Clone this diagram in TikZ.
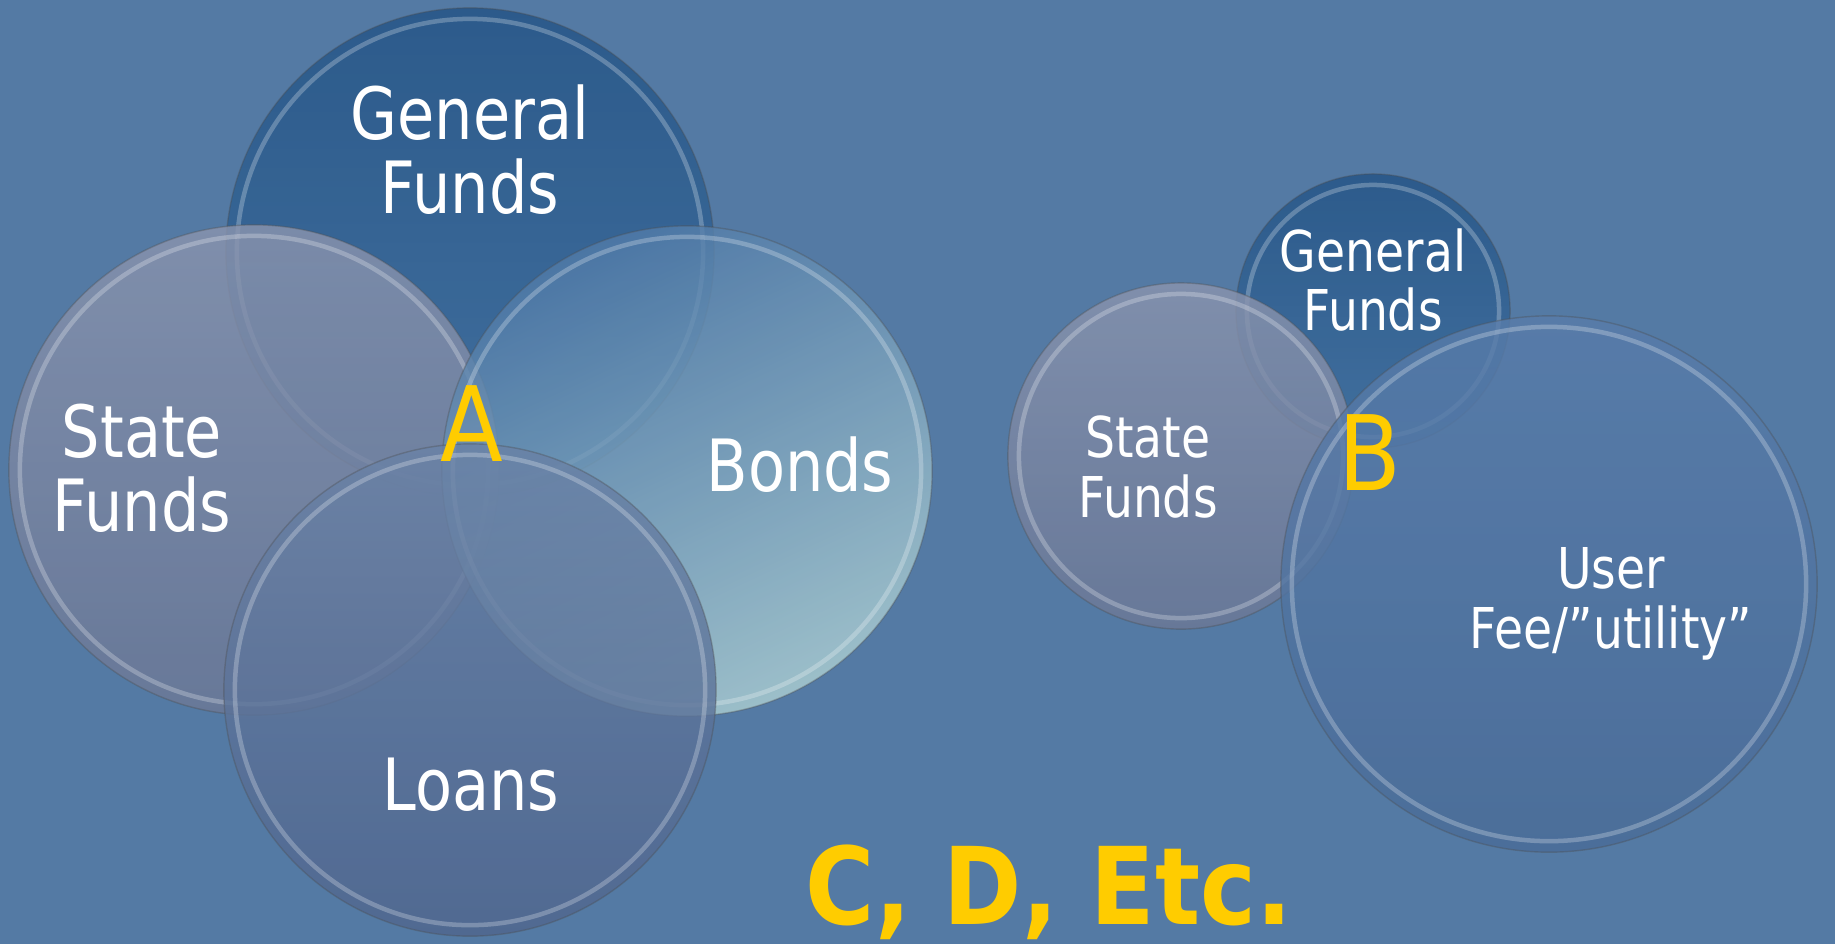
\documentclass[tikz,border=0pt]{standalone}
\usepackage{fontspec}
\setmainfont[FakeStretch=0.84]{DejaVu Sans}
\newfontfamily\markfont[FakeStretch=0.88]{DejaVu Sans}
\usetikzlibrary{calc}
\usetikzlibrary{positioning}
\definecolor{slide}{RGB}{84,122,164}
\definecolor{gold}{RGB}{255,204,0}
\definecolor{gfTop}{RGB}{36,84,134}
\definecolor{gfBot}{RGB}{62,110,158}
\definecolor{sfTop}{RGB}{138,148,174}
\definecolor{sfBot}{RGB}{108,120,150}
\definecolor{bdTop}{RGB}{80,122,168}
\definecolor{bdBot}{RGB}{172,206,210}
\definecolor{lnTop}{RGB}{106,130,166}
\definecolor{lnBot}{RGB}{80,102,142}
\definecolor{ufTop}{RGB}{88,124,170}
\definecolor{ufBot}{RGB}{74,108,152}
\tikzset{
  bubble/.style={
    circle, inner sep=0pt, outer sep=0pt,
    draw=black!70, draw opacity=.35, line width=.4pt,
    fill opacity=.82,
    path picture={
      \draw[white, draw opacity=.25, line width=.45mm]
        let \p1=(path picture bounding box.east),
            \p2=(path picture bounding box.center) in
        (\p2) circle ({\x1-\x2-1.1mm});
    }
  },
  lbl/.style={text=white, align=center, font=\fontsize{20.5}{21}\selectfont},
  small/.style={text=white, align=center, font=\fontsize{16}{17}\selectfont},
  setname/.style={text=gold, font=\markfont\fontsize{29.6}{30}\selectfont},
  more/.style={text=gold, font=\markfont\bfseries\fontsize{30.5}{32}\selectfont}
}

\begin{document}
\begin{tikzpicture}[x=0.01cm, y=-0.01cm]

    \fill[slide] (0,0) rectangle (1835,944);
    \useasboundingbox (0,0) rectangle (1835,944);

    % left group
    \node [bubble, minimum size=4.88cm, top color=gfTop, bottom color=gfBot]
          (gfA) at (470,252) {};
    \node [bubble, minimum size=4.90cm, top color=sfTop, bottom color=sfBot]
          (sfA) at (254,470) {};
    \node [bubble, minimum size=4.90cm, top color=bdTop, bottom color=bdBot,
           shading angle=25] (bondsA) at (687,471) {};
    \node [bubble, minimum size=4.92cm, top color=lnTop, bottom color=lnBot]
          (loansA) at (470,690) {};

    \node [lbl] (gfAtext) at (470,150) {General\\Funds};
    \node [lbl] (sfAtext) at (142,468) {State\\Funds};
    \node [lbl] (bondsAtext) at (800,465) {Bonds};
    \node [lbl] (loansAtext) at (471,785) {Loans};
    \node [setname] (setA) at (472,424) {A};

    % right group
    \node [bubble, minimum size=2.74cm, top color=gfTop, bottom color=gfBot]
          (gfB) at (1373,311) {};
    \node [bubble, minimum size=3.46cm, top color=sfTop, bottom color=sfBot]
          (sfB) at (1181,456) {};
    \node [bubble, minimum size=5.36cm, top color=ufTop, bottom color=ufBot]
          (feeB) at (1549,584) {};

    \node [small] (gfBtext) at (1373,280) {General\\Funds};
    \node [small] (sfBtext) at (1148,467) {State\\Funds};
    \node [small] (feeBtext) at (1611,604) {User\\Fee/”utility”};
    \node [setname] (setB) at (1370,453) {B};

    \node [more] (others) at (1049,892) {C, D, Etc.};
\end{tikzpicture}
\end{document}
